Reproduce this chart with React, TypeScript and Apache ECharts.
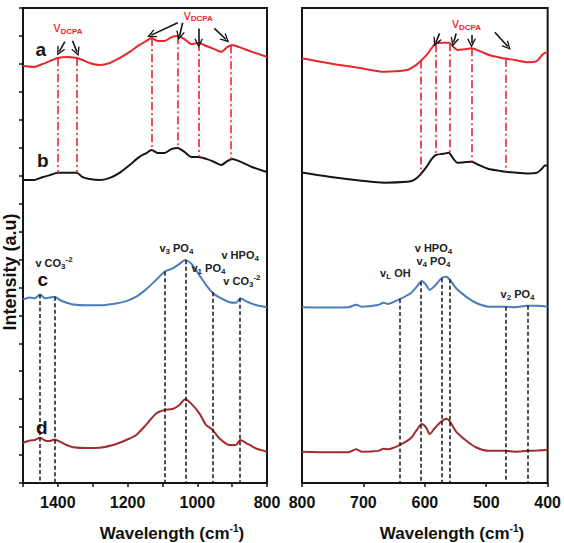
import { useEffect, useRef } from 'react';
import * as echarts from 'echarts';

// ---- Spectra, 1500–800 cm-1 panel ----
const leftWaveAB = [1500, 1471, 1443, 1423, 1400, 1374, 1346, 1329, 1309, 1280, 1251, 1223, 1194, 1166, 1146, 1131, 1114, 1094, 1074, 1057, 1037, 1017, 997, 974, 951, 931, 914, 900, 880, 843, 800];
const leftA = [14.92, 14.89, 15.0, 15.1, 15.21, 15.25, 15.21, 15.14, 15.03, 14.96, 15.03, 15.21, 15.43, 15.68, 15.82, 15.93, 15.82, 15.82, 15.96, 16.0, 15.89, 15.71, 15.75, 15.64, 15.53, 15.43, 15.6, 15.68, 15.6, 15.43, 15.25];
const leftB = [10.84, 10.84, 10.95, 11.02, 11.1, 11.1, 11.1, 10.95, 10.88, 10.84, 10.92, 11.1, 11.38, 11.67, 11.81, 11.92, 11.81, 11.81, 11.95, 11.99, 11.85, 11.67, 11.67, 11.6, 11.49, 11.38, 11.52, 11.6, 11.52, 11.31, 11.13];

const leftWaveCD = [1500, 1480, 1466, 1451, 1437, 1423, 1410, 1394, 1375, 1356, 1318, 1280, 1242, 1204, 1175, 1147, 1118, 1094, 1071, 1051, 1035, 1018, 994, 975, 956, 937, 909, 889, 877, 861, 832, 800];
const leftC = [6.57, 6.64, 6.61, 6.75, 6.61, 6.64, 6.67, 6.55, 6.45, 6.39, 6.36, 6.36, 6.41, 6.51, 6.67, 6.93, 7.27, 7.56, 7.68, 7.84, 7.98, 7.86, 7.44, 7.09, 6.81, 6.64, 6.48, 6.45, 6.61, 6.51, 6.37, 6.29];
const leftD = [1.44, 1.52, 1.54, 1.62, 1.52, 1.5, 1.56, 1.48, 1.36, 1.28, 1.25, 1.26, 1.36, 1.54, 1.72, 2.08, 2.49, 2.61, 2.65, 2.79, 3.0, 2.85, 2.49, 2.08, 1.9, 1.6, 1.36, 1.36, 1.54, 1.44, 1.24, 1.12];

// ---- Spectra, 800–400 cm-1 panel ----
const rightWaveAB = [800, 756, 703, 666, 629, 618, 608, 597, 589, 582, 570, 561, 554, 547, 536, 524, 512, 496, 480, 469, 454, 433, 417, 409, 404, 400];
const rightA = [15.2, 15.02, 14.84, 14.72, 14.78, 14.9, 15.08, 15.32, 15.56, 15.74, 15.76, 15.76, 15.62, 15.5, 15.52, 15.56, 15.47, 15.32, 15.24, 15.19, 15.14, 15.06, 15.11, 15.32, 15.4, 15.4];
const rightB = [11.11, 10.96, 10.82, 10.75, 10.78, 10.84, 11.02, 11.32, 11.59, 11.74, 11.78, 11.82, 11.62, 11.46, 11.48, 11.5, 11.38, 11.24, 11.18, 11.14, 11.11, 11.08, 11.11, 11.26, 11.36, 11.36];

const rightWaveCD = [800, 756, 724, 712, 703, 676, 667, 660, 642, 623, 613, 605, 598, 592, 584, 573, 565, 559, 549, 533, 517, 496, 468, 454, 433, 417, 400];
const rightC = [6.29, 6.28, 6.29, 6.38, 6.31, 6.37, 6.45, 6.41, 6.57, 6.79, 7.03, 7.23, 7.09, 6.91, 7.05, 7.33, 7.38, 7.27, 6.97, 6.67, 6.45, 6.31, 6.31, 6.29, 6.34, 6.34, 6.31];
const rightD = [1.12, 1.1, 1.1, 1.21, 1.12, 1.15, 1.23, 1.21, 1.35, 1.6, 1.9, 2.11, 1.99, 1.75, 1.96, 2.2, 2.3, 2.2, 1.84, 1.52, 1.28, 1.15, 1.15, 1.12, 1.15, 1.16, 1.18];

// Band positions (cm-1)
const dcpaLeft = [1400, 1346, 1131, 1055, 997, 903];
const dcpaRight = [606, 583, 560, 524, 468];
const bandLeft = [1451, 1410, 1094, 1034, 957, 877];
const bandRight = [641, 606, 573, 560, 468, 433];

// Arrows: [fromWave, fromI, toWave, toI]
const arrowsLeft = [
  [1380, 15.8, 1396, 15.44],
  [1358, 15.83, 1345, 15.42],
  [1056, 16.47, 1132, 16.03],
  [1042, 16.47, 1051, 16.0],
  [996, 16.27, 996, 15.74],
  [951, 16.27, 918, 15.88],
];
const arrowsRight = [
  [576, 16.09, 582, 15.77],
  [549, 16.09, 553, 15.77],
  [524, 16.03, 524, 15.74],
  [486, 16.13, 465, 15.62],
];

// Text annotations: [wave, intensity, rich text]
const letterLeft = [
  [1449, 15.5, 'a'],
  [1443, 11.56, 'b'],
  [1443, 7.27, 'c'],
  [1446, 2.0, 'd'],
];
const dcpaLabelsLeft = [
  [1371, 16.32],
  [997, 16.75],
];
const dcpaLabelsRight = [[532, 16.46]];
const bandLabelsLeft = [
  [1411, 7.87, '{t|v CO}{s|3}{p|-2}'],
  [1060, 8.41, '{t|v}{s|3}{t| PO}{s|4}'],
  [968, 7.68, '{t|v}{s|1}{t| PO}{s|4}'],
  [877, 8.16, '{t|v HPO}{s|4}'],
  [872, 7.22, '{t|v CO}{s|3}{p|-2}'],
];
const bandLabelsRight = [
  [648, 7.52, '{t|v}{s|L}{t| OH}'],
  [586, 8.41, '{t|v HPO}{s|4}'],
  [586, 7.95, '{t|v}{s|4}{t| PO}{s|4}'],
  [449, 6.76, '{t|v}{s|2}{t| PO}{s|4}'],
];

const xTicksLeft = { min: 800, max: 1500, step: 100 };
const xTicksRight = { min: 400, max: 800, step: 100 };
const yRange = { min: 0, max: 17, step: 1 };

const RED = '#e8262b';
const BLACK = '#151515';
const BLUE = '#4a7ebb';
const BROWN = '#a02c2c';
const FONT = 'Liberation Sans';
const CHEVRON = 'path://M0,12 L6,0 L12,12 L10,12 L6,4 L2,12 Z';

function zip(xs: number[], ys: number[]) {
  return xs.map((x, i) => [x, ys[i]]);
}

function interp(ws: number[], vs: number[], w: number) {
  for (let i = 0; i < ws.length - 1; i++) {
    const a = ws[i];
    const b = ws[i + 1];
    if ((w <= a && w >= b) || (w >= a && w <= b)) {
      const t = a === b ? 0 : (w - a) / (b - a);
      return vs[i] + t * (vs[i + 1] - vs[i]);
    }
  }
  return vs[vs.length - 1];
}

const bandRich = {
  t: { fontSize: 11, fontWeight: 'bold', color: '#222', fontFamily: FONT, lineHeight: 15 },
  s: { fontSize: 8, fontWeight: 'bold', color: '#222', fontFamily: FONT, lineHeight: 8, verticalAlign: 'bottom' },
  p: { fontSize: 8, fontWeight: 'bold', color: '#222', fontFamily: FONT, lineHeight: 8, verticalAlign: 'top' },
  r: { fontSize: 14, color: RED, fontFamily: FONT, lineHeight: 16 },
  rs: { fontSize: 8, fontWeight: 'bold', color: RED, fontFamily: FONT, lineHeight: 8, verticalAlign: 'bottom' },
  L: { fontSize: 19, fontWeight: 'bold', color: BLACK, fontFamily: FONT, lineHeight: 20 },
};

function textPoints(items: any[][]) {
  return items.map((it) => ({
    coord: [it[0], it[1]],
    label: { formatter: it[2] },
  }));
}

function markText(items: any[]) {
  return {
    silent: true,
    symbol: 'circle',
    symbolSize: 0,
    itemStyle: { color: 'transparent' },
    label: { show: true, position: 'inside', align: 'center', verticalAlign: 'middle', rich: bandRich },
    data: items,
  };
}

function verticals(waves: number[], topW: number[], topV: number[], botW: number[] | null, botV: number[] | null, style: any) {
  return {
    silent: true,
    symbol: ['none', 'none'],
    label: { show: false },
    lineStyle: style,
    emphasis: { disabled: true },
    data: waves.map((w) => [
      { coord: [w, interp(topW, topV, w)] },
      { coord: [w, botW && botV ? interp(botW, botV, w) : 0] },
    ]),
  };
}

function arrows(list: number[][]) {
  return {
    silent: true,
    symbol: ['none', CHEVRON],
    symbolSize: 9,
    label: { show: false },
    lineStyle: { color: BLACK, width: 1.6, type: 'solid' },
    emphasis: { disabled: true },
    data: list.map((a) => [{ coord: [a[0], a[1]] }, { coord: [a[2], a[3]] }]),
  };
}

function lineSeries(name: string, gi: number, xs: number[], ys: number[], color: string, extra: any = {}) {
  return {
    name,
    type: 'line',
    xAxisIndex: gi,
    yAxisIndex: gi,
    data: zip(xs, ys),
    showSymbol: false,
    smooth: 0.25,
    lineStyle: { color, width: 2 },
    itemStyle: { color },
    silent: true,
    ...extra,
  };
}

function xAxisCfg(gi: number, range: { min: number; max: number; step: number }, labelFilter: (v: number) => boolean) {
  return {
    type: 'value',
    gridIndex: gi,
    min: range.min,
    max: range.max,
    interval: range.step,
    inverse: true,
    axisLine: { show: true, lineStyle: { color: BLACK, width: 2 } },
    axisTick: { show: true, length: 4, lineStyle: { color: BLACK, width: 1.5 } },
    splitLine: { show: false },
    axisLabel: {
      margin: 11,
      fontSize: 16,
      fontWeight: 'bold',
      fontFamily: FONT,
      color: '#111',
      formatter: (v: number) => (labelFilter(v) ? String(v) : ''),
    },
  };
}

function yAxisCfg(gi: number, ticks: boolean) {
  return {
    type: 'value',
    gridIndex: gi,
    min: yRange.min,
    max: yRange.max,
    interval: yRange.step,
    axisLine: { show: true, lineStyle: { color: BLACK, width: 2 } },
    axisTick: { show: ticks, length: 4, lineStyle: { color: BLACK, width: 1.5 } },
    axisLabel: { show: false },
    splitLine: { show: false },
  };
}

export default function App() {
  const ref = useRef<HTMLDivElement>(null);

  useEffect(() => {
    if (!ref.current) return;
    const chart = echarts.init(ref.current, null, { renderer: 'svg' });

    const redDashDot = { color: RED, width: 1.6, type: [8, 3, 2, 3] };
    const blackDash = { color: BLACK, width: 1.5, type: [4, 2.5] };

    const titleRich = {
      m: { fontSize: 17, fontWeight: 'bold', fontFamily: FONT, fill: '#111', lineHeight: 20 },
      s: { fontSize: 10, fontWeight: 'bold', fontFamily: FONT, fill: '#111', lineHeight: 10, verticalAlign: 'top' },
    };

    chart.setOption({
      animation: false,
      backgroundColor: '#ffffff',
      grid: [
        { left: 23, top: 8, width: 244, height: 475, show: true, borderColor: BLACK, borderWidth: 2 },
        { left: 302, top: 8, width: 252, height: 475, show: true, borderColor: BLACK, borderWidth: 2 },
      ],
      xAxis: [
        xAxisCfg(0, xTicksLeft, (v) => v % 200 === 0),
        xAxisCfg(1, xTicksRight, () => true),
      ],
      yAxis: [yAxisCfg(0, true), yAxisCfg(1, false)],
      series: [
        lineSeries('a', 0, leftWaveAB, leftA, RED, {
          markLine: verticals(dcpaLeft, leftWaveAB, leftA, leftWaveAB, leftB, redDashDot),
          markPoint: markText([
            ...textPoints(letterLeft.map((l) => [l[0], l[1], '{L|' + l[2] + '}'])),
            ...textPoints(dcpaLabelsLeft.map((l) => [l[0], l[1], '{r|v}{rs|DCPA}'])),
          ]),
        }),
        lineSeries('b', 0, leftWaveAB, leftB, BLACK, { markLine: arrows(arrowsLeft) }),
        lineSeries('c', 0, leftWaveCD, leftC, BLUE, {
          markLine: verticals(bandLeft, leftWaveCD, leftC, null, null, blackDash),
          markPoint: markText(textPoints(bandLabelsLeft)),
        }),
        lineSeries('d', 0, leftWaveCD, leftD, BROWN),
        lineSeries('a2', 1, rightWaveAB, rightA, RED, {
          markLine: verticals(dcpaRight, rightWaveAB, rightA, rightWaveAB, rightB, redDashDot),
          markPoint: markText(textPoints(dcpaLabelsRight.map((l) => [l[0], l[1], '{r|v}{rs|DCPA}']))),
        }),
        lineSeries('b2', 1, rightWaveAB, rightB, BLACK, { markLine: arrows(arrowsRight) }),
        lineSeries('c2', 1, rightWaveCD, rightC, BLUE, {
          markLine: verticals(bandRight, rightWaveCD, rightC, null, null, blackDash),
          markPoint: markText(textPoints(bandLabelsRight)),
        }),
        lineSeries('d2', 1, rightWaveCD, rightD, BROWN),
      ],
      graphic: [
        {
          type: 'text',
          x: 10,
          y: 272,
          rotation: Math.PI / 2,
          style: {
            text: 'Intensity (a.u)',
            fontSize: 18,
            fontWeight: 'bold',
            fontFamily: FONT,
            fill: '#111',
            align: 'center',
            verticalAlign: 'middle',
          },
        },
        {
          type: 'text',
          x: 172,
          y: 533,
          style: { text: '{m|Wavelength (cm}{s|-1}{m|)}', rich: titleRich, align: 'center', verticalAlign: 'middle' },
        },
        {
          type: 'text',
          x: 452,
          y: 533,
          style: { text: '{m|Wavelength (cm}{s|-1}{m|)}', rich: titleRich, align: 'center', verticalAlign: 'middle' },
        },
      ],
    });

    return () => chart.dispose();
  }, []);

  return <div ref={ref} style={{ position: 'absolute', left: 0, top: 0, width: 564, height: 543 }} />;
}
